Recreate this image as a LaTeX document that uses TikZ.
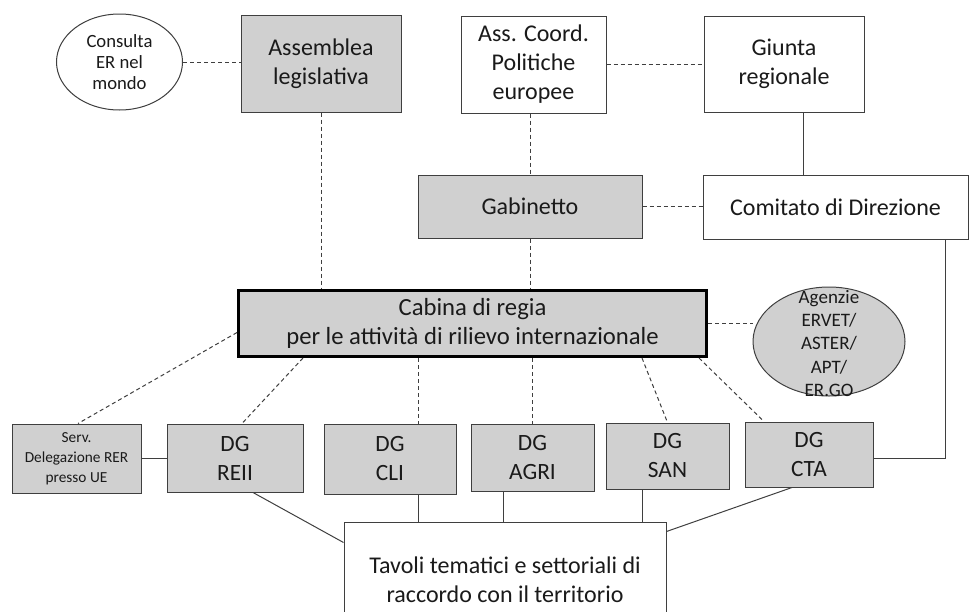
\documentclass[tikz,border=0pt]{standalone}
\usepackage{fontspec}
\setmainfont{Carlito}
\usetikzlibrary{shapes.geometric,calc}
\definecolor{boxgray}{HTML}{D0D0D0}
\definecolor{edge}{HTML}{3F3F3F}
\definecolor{txt}{HTML}{1A1A1A}
\begin{document}
\begin{tikzpicture}[x=0.75pt,y=-0.75pt,
 wh/.style 2 args={minimum width=#1*0.75pt,minimum height=#2*0.75pt},
 boxw/.style={draw=edge,line width=0.75pt,fill=white,inner sep=0pt,align=center,text=txt,font=\fontsize{18}{21.75}\selectfont},
 boxg/.style={boxw,fill=boxgray},
 dgbox/.style={boxg,font=\fontsize{17.5}{21.75}\selectfont},
 dline/.style={draw=edge,line width=0.75pt,dash pattern=on 3pt off 2.25pt},
 sline/.style={draw=edge,line width=0.75pt},
]
\useasboundingbox (0,0) rectangle (971,611);
\clip (0,0) rectangle (971,611);

\node[boxw, ellipse, wh={126}{96}, font=\fontsize{14}{15.75}\selectfont] (cons) at (119.5,62) {Consulta\\ER nel\\mondo};
\node[boxg, wh={160}{97}] (assem) at (321,63.5) {Assemblea\\legislativa};
\node[boxw, wh={145}{97}] (asscoord) at (533.5,64.5) {Ass. Coord.\\Politiche\\europee};
\node[boxw, wh={160}{96}] (giunta) at (784,64) {Giunta\\regionale};
\node[boxg, wh={224}{63}] (gab) at (530,206.5) {Gabinetto};
\node[boxw, wh={265}{64}] (comit) at (835.5,207) {Comitato di Direzione};
\node[boxg, wh={468}{66}, draw=black, line width=2.25pt, font=\fontsize{18.5}{21.75}\selectfont] (cabina) at (472.5,323.5) {Cabina di regia\\per le attività di rilievo internazionale};
\node[boxg, ellipse, wh={152}{109}] (agenzie) at (829,341.5) {};
\node[font=\fontsize{14.25}{17.6}\selectfont, align=center, text=txt, inner sep=0pt] (agtext) at (829,343.5) {Agenzie\\ERVET/\\ASTER/\\APT/\\ER.GO};

\node[boxg, wh={129}{69}, font=\fontsize{11.5}{15}\selectfont] (serv) at (76.5,458.5) {Serv.\\Delegazione RER\\presso UE};
\node[dgbox, wh={136}{68}] (reii) at (235,458) {DG\\REII};
\node[dgbox, wh={132}{70}] (cli) at (390,459) {DG\\CLI};
\node[dgbox, wh={123}{67}] (agri) at (532.5,457.5) {DG\\AGRI};
\node[dgbox, wh={123}{66}] (san) at (667.5,456) {DG\\SAN};
\node[dgbox, wh={128}{65}] (cta) at (809,454.5) {DG\\CTA};
\node[boxw, wh={322}{115}, font=\fontsize{18}{22}\selectfont] (tav) at (505,579.5) {Tavoli tematici e settoriali di\\raccordo con il territorio};

% helper coordinates on node borders
\coordinate (gjs) at ($(giunta.south)+(19,0)$);
\coordinate (cms) at ($(comit.south east)+(-23,0)$);
\coordinate (clin) at ($(cli.north)+(28,0)$);
\coordinate (clis) at ($(cli.south)+(28,0)$);
\coordinate (agris) at ($(agri.south)+(-29.5,0)$);
\coordinate (sans) at ($(san.south)+(-25.5,0)$);

% top connectors
\draw[dline] (cons.east) -- (cons.east -| assem.west);
\draw[dline] (assem.south) -- (assem.south |- cabina.north);
\draw[dline] (asscoord.east) -- (asscoord.east -| giunta.west);
\draw[dline] (gab.north |- asscoord.south) -- (gab.north);
\draw[sline] (gjs) -- (gjs |- comit.north);
\draw[dline] (gab.east) -- (gab.east -| comit.west);
\draw[dline] (gab.south) -- (gab.south |- cabina.north);
\draw[sline] ($(cta.east)+(0,3.5)$) -| (cms);
\draw[dline] (cabina.east) -- (cabina.east -| agenzie.west);

% cabina to lower row
\draw[dline] ($(cabina.west)+(0,9)$) -- ($(serv.north)+(1.5,0)$);
\draw[dline] ($(cabina.south west)+(66,0)$) -- ($(reii.north)+(7,0)$);
\draw[dline] (clin |- cabina.south) -- (clin);
\draw[dline] (agri.north |- cabina.south) -- (agri.north);
\draw[dline] ($(cabina.south east)+(-66,0)$) -- (san.north);
\draw[dline] ($(cabina.south east)+(-9,0)$) -- ($(cta.north)+(-45,0)$);

% lower row
\draw[sline] (serv.east) -- (serv.east -| reii.west);
\draw[sline] ($(reii.south)+(18,0)$) -- ($(tav.north west)+(0,21)$);
\draw[sline] (clis) -- (clis |- tav.north);
\draw[sline] (agris) -- (agris |- tav.north);
\draw[sline] (sans) -- (sans |- tav.north);
\draw[sline] ($(cta.south)+(-17,0)$) -- ($(tav.north east)+(0,10)$);
\end{tikzpicture}
\end{document}
